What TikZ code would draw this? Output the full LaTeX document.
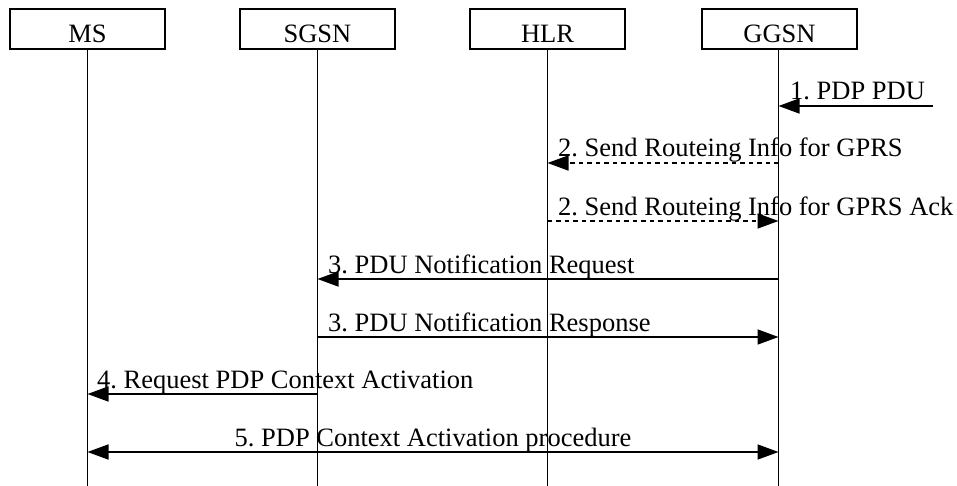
\documentclass[tikz,border=0pt]{standalone}
\usepackage{fontspec}
\setmainfont{Liberation Serif}
\usetikzlibrary{arrows.meta}
\begin{document}
\frenchspacing
\begin{tikzpicture}[x=1pt,y=-1pt,
  font=\fontsize{26.5}{31}\selectfont,
  entity/.style={draw,line width=1.3pt,minimum width=155pt,minimum height=40pt,inner sep=0pt},
  lifeline/.style={line width=0.9pt},
  msg/.style={line width=1.6pt,-{Triangle[length=21pt,width=15pt]}},
  dmsg/.style={msg,dash pattern=on 4.5pt off 4pt},
  bmsg/.style={line width=1.6pt,{Triangle[length=21pt,width=15pt]}-{Triangle[length=21pt,width=15pt]}},
  lbl/.style={anchor=base west,inner sep=0pt}
]
\useasboundingbox (0,0) rectangle (957,486);
% entities
\node[entity] (ms)   at (87.5,29)  {};
\node[entity] (sgsn) at (317.5,29) {};
\node[entity] (hlr)  at (547.5,29) {};
\node[entity] (ggsn) at (779.5,29) {};
\node[anchor=base,inner sep=0pt] (msT)   at (87.5,43)  {MS};
\node[anchor=base,inner sep=0pt] (sgsnT) at (317.5,43) {SGSN};
\node[anchor=base,inner sep=0pt] (hlrT)  at (547.5,43) {HLR};
\node[anchor=base,inner sep=0pt] (ggsnT) at (779.5,43) {GGSN};
% lifeline ends
\coordinate (msE)   at (87.5,486);
\coordinate (sgsnE) at (317.5,486);
\coordinate (hlrE)  at (547.5,486);
\coordinate (ggsnE) at (778.5,486);
\draw[lifeline] (ms.south) -- (msE);
\draw[lifeline] (sgsn.south) -- (sgsnE);
\draw[lifeline] (hlr.south) -- (hlrE);
\draw[lifeline] (ggsn.south-|ggsnE) -- (ggsnE);
% message points
\coordinate (ext1) at (933,106);
\coordinate (g1) at (778.5,106);
\coordinate (g2) at (778.5,163);
\coordinate (h2) at (547.5,163);
\coordinate (h3) at (547.5,221);
\coordinate (g3) at (778.5,221);
\coordinate (g4) at (778.5,279);
\coordinate (s4) at (317.5,279);
\coordinate (s5) at (317.5,337);
\coordinate (g5) at (778.5,337);
\coordinate (s6) at (317.5,394);
\coordinate (m6) at (87.5,394);
\coordinate (m7) at (87.5,452);
\coordinate (g7) at (778.5,452);
% messages
\draw[msg] (ext1) -- (g1);
\node[lbl] (l1) at (790,100) {1. PDP PDU};
\draw[dmsg] (g2) -- (h2);
\node[lbl] (l2) at (558,157) {2. Send Routeing Info for GPRS};
\draw[dmsg] (h3) -- (g3);
\node[lbl] (l3) at (558,215) {2. Send Routeing Info for GPRS Ack};
\draw[msg] (g4) -- (s4);
\node[lbl] (l4) at (328,273) {3. PDU Notification Request};
\draw[msg] (s5) -- (g5);
\node[lbl] (l5) at (328,331) {3. PDU Notification Response};
\draw[msg] (s6) -- (m6);
\node[lbl] (l6) at (97,388) {4. Request PDP Context Activation};
\draw[bmsg] (m7) -- (g7);
\node[anchor=base,inner sep=0pt] (l7) at (433,446) {5. PDP Context Activation procedure};
\end{tikzpicture}
\end{document}
